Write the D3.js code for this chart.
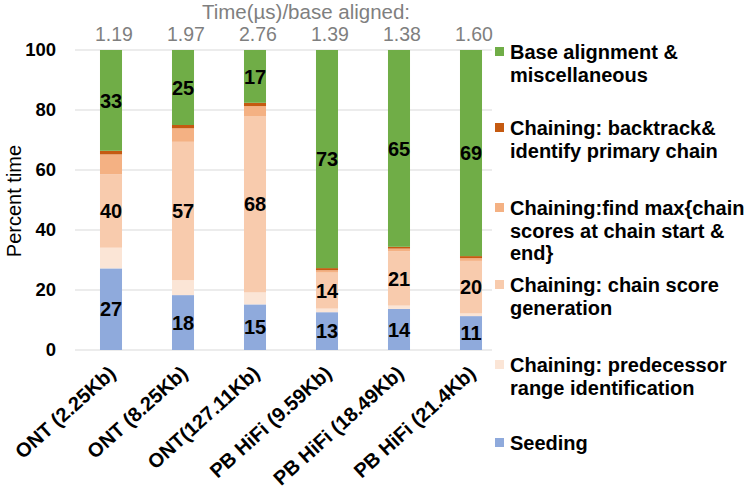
<!DOCTYPE html>
<html><head><meta charset="utf-8">
<script src="https://cdn.jsdelivr.net/npm/d3@7"></script>
<style>body{margin:0;background:#fff}svg{display:block}text{font-family:"Liberation Sans",Arial,sans-serif}</style>
</head><body><svg id="c" width="750" height="497"></svg>
<script>
const categories = ["ONT (2.25Kb)","ONT (8.25Kb)","ONT(127.11Kb)","PB HiFi (9.59Kb)","PB HiFi (18.49Kb)","PB HiFi (21.4Kb)"];
const timePerBase = ["1.19","1.97","2.76","1.39","1.38","1.60"];
const seriesNames = ["Seeding","Chaining: predecessor range identification","Chaining: chain score generation","Chaining:find max{chain scores at chain start & end}","Chaining: backtrack& identify primary chain","Base alignment & miscellaneous"];
const seeding      = [27.2, 18.3, 15.2, 12.6, 13.7, 11.3];
const predecessor  = [6.9, 5.0, 4.0, 1.2, 1.1, 0.9];
const chainScore   = [24.5, 46.1, 58.8, 12.0, 18.1, 17.5];
const findMax      = [6.6, 4.5, 3.3, 0.8, 0.9, 0.9];
const backtrack    = [1.2, 1.1, 1.1, 0.7, 0.6, 0.7];
const baseAlign    = [33.6, 25.0, 17.6, 72.7, 65.6, 68.7];
const seedLabels   = [27, 18, 15, 13, 14, 11];
const chainLabels  = [40, 57, 68, 14, 21, 20];
const baseLabels   = [33, 25, 17, 73, 65, 69];
const yTicks = [0, 20, 40, 60, 80, 100];
const legendLines = [["Base alignment &","miscellaneous"],["Chaining: backtrack&","identify primary chain"],["Chaining:find max{chain","scores at chain start &","end}"],["Chaining: chain score","generation"],["Chaining: predecessor","range identification"],["Seeding"]];
const colors = ["#8FAADC","#FBE5D6","#F8CBAD","#F4B183","#C55A11","#70AD47"];

const svg = d3.select("#c");
const L = 75, R = 507, T = 50, B = 350;
const x = d3.scaleBand().domain(categories).range([L, R]).paddingInner(0.694).paddingOuter(0.347);
const y = d3.scaleLinear().domain([0, 100]).range([B, T]);

// gridlines
svg.append("g").selectAll("line").data(yTicks).join("line")
  .attr("x1", L).attr("x2", 492).attr("y1", d => y(d)).attr("y2", d => y(d))
  .attr("stroke", "#d9d9d9").attr("stroke-width", 1);

// y axis labels
const yAxis = d3.axisLeft(y).tickValues(yTicks).tickSize(0).tickPadding(0);
const ga = svg.append("g").attr("transform", `translate(${L-19},0)`).call(yAxis);
ga.select(".domain").remove();
ga.selectAll("text").attr("font-size", 18.5).attr("font-weight", "bold").attr("fill", "#000").attr("font-family", '"Liberation Sans",Arial,sans-serif');

// stacked bars
const rows = categories.map((c, i) => ({cat: c, s0: seeding[i], s1: predecessor[i], s2: chainScore[i], s3: findMax[i], s4: backtrack[i], s5: baseAlign[i]}));
const keys = ["s0","s1","s2","s3","s4","s5"];
const stack = d3.stack().keys(keys)(rows);
svg.append("g").selectAll("g").data(stack).join("g").attr("fill", (d, i) => colors[i])
  .selectAll("rect").data(d => d).join("rect")
  .attr("x", d => x(d.data.cat)).attr("width", x.bandwidth())
  .attr("y", d => y(d[1])).attr("height", d => y(d[0]) - y(d[1]));

// data labels
const lab = svg.append("g").attr("font-size", 20).attr("font-weight", "bold").attr("text-anchor", "middle").attr("fill", "#000");
const labelSets = [[0, seedLabels], [2, chainLabels], [5, baseLabels]];
labelSets.forEach(([si, vals]) => {
  lab.selectAll(null).data(stack[si]).join("text")
    .attr("x", d => x(d.data.cat) + x.bandwidth() / 2)
    .attr("y", d => y((d[0] + d[1]) / 2))
    .attr("dy", "0.36em")
    .text((d, i) => vals[i]);
});

// x labels
svg.append("g").selectAll("text").data(categories).join("text")
  .attr("transform", d => `translate(${x(d) + x.bandwidth() / 2 + 6},${B + 25}) rotate(-42)`)
  .attr("text-anchor", "end").attr("font-size", 20).attr("font-weight", "bold").attr("fill", "#000")
  .text(d => d);

// top annotation
svg.append("text").attr("x", 306).attr("y", 18.5).attr("text-anchor", "middle").attr("font-size", 20.5).attr("fill", "#7f7f7f").text("Time(µs)/base aligned:");
svg.append("g").selectAll("text").data(timePerBase).join("text")
  .attr("x", (d, i) => x(categories[i]) + x.bandwidth() / 2 + 3).attr("y", 41)
  .attr("text-anchor", "middle").attr("font-size", 19.5).attr("fill", "#7f7f7f").text(d => d);

// y title
svg.append("text").attr("transform", "translate(21,201) rotate(-90)").attr("text-anchor", "middle")
  .attr("font-size", 20).attr("fill", "#000").text("Percent time");

// legend
const legY = [52, 128, 208, 285, 365, 443];
const lg = svg.append("g");
legendLines.forEach((lines, i) => {
  const ci = 5 - i;
  lg.append("rect").attr("x", 495).attr("y", legY[i] - 5).attr("width", 9).attr("height", 9).attr("fill", colors[ci]);
  const t = lg.append("text").attr("x", 510).attr("y", legY[i]).attr("font-size", 20).attr("font-weight", "bold").attr("fill", "#000");
  lines.forEach((ln, j) => t.append("tspan").attr("x", 510).attr("dy", j === 0 ? "0.36em" : 22.5).text(ln));
});
</script></body></html>
